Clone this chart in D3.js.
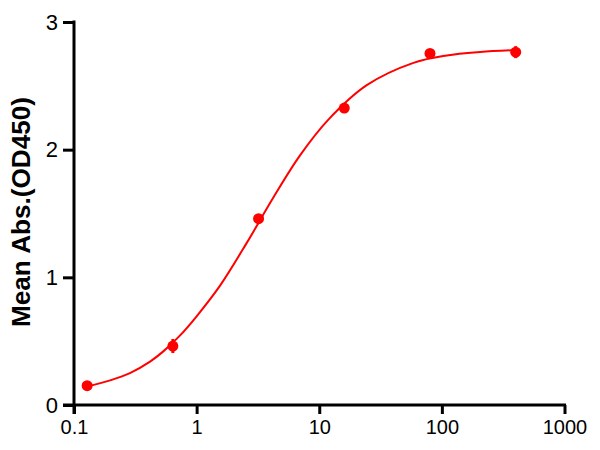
<!DOCTYPE html>
<html><head><meta charset="utf-8">
<script src="https://cdn.jsdelivr.net/npm/d3@7"></script>
<style>body{margin:0;background:#fff}svg{display:block}</style>
</head><body>
<svg id="c" width="600" height="450"></svg>
<script>
// Data points (concentration, mean absorbance, error)
const concentrations = [0.128, 0.64, 3.2, 16, 80, 400];
const meanAbs = [0.151, 0.462, 1.459, 2.326, 2.754, 2.764];
const errors = [0.02, 0.055, 0.02, 0.02, 0.02, 0.047];
// Fitted curve
const curveX = [0.128, 0.2, 0.286, 0.417, 0.535, 0.733, 1.0, 1.552, 2.563, 4.224, 6.97, 11.87, 24.4, 58.6, 109.6, 205, 400];
const curveY = [0.145, 0.195, 0.25, 0.34, 0.42, 0.545, 0.695, 0.935, 1.27, 1.625, 1.955, 2.235, 2.505, 2.68, 2.738, 2.765, 2.78];
const xTicks = [0.1, 1, 10, 100, 1000];
const xTickLabels = ["0.1", "1", "10", "100", "1000"];
const yTicks = [0, 1, 2, 3];
const yTickLabels = ["0", "1", "2", "3"];
const yTitle = "Mean Abs.(OD450)";

const svg = d3.select("#c");
const x = d3.scaleLog().domain([0.1, 1000]).range([74, 564.5]);
const y = d3.scaleLinear().domain([0, 3]).range([405, 22]);
const font = "'Liberation Sans', Arial, sans-serif";

// axis lines
svg.append("line").attr("x1", x(0.1) - 11).attr("x2", x(1000) + 1.5)
  .attr("y1", y(0)).attr("y2", y(0)).attr("stroke", "#000").attr("stroke-width", 3);
svg.append("line").attr("x1", x(0.1)).attr("x2", x(0.1))
  .attr("y1", y(3) - 1.5).attr("y2", y(0) + 9).attr("stroke", "#000").attr("stroke-width", 3);

// x axis ticks
const xa = svg.append("g").attr("transform", `translate(0,${y(0)})`)
  .call(d3.axisBottom(x).tickValues(xTicks).tickSize(9).tickSizeOuter(0)
    .tickFormat((d, i) => xTickLabels[i]));
xa.select(".domain").remove();
xa.selectAll(".tick line").attr("stroke", "#000").attr("stroke-width", 3);
xa.selectAll(".tick text").attr("font-family", font).attr("font-size", 20)
  .attr("fill", "#000").attr("y", 15).attr("dy", "0.71em");

// y axis ticks
const ya = svg.append("g").attr("transform", `translate(${x(0.1)},0)`)
  .call(d3.axisLeft(y).tickValues(yTicks).tickSize(11).tickSizeOuter(0)
    .tickFormat((d, i) => yTickLabels[i]));
ya.select(".domain").remove();
ya.selectAll(".tick line").attr("stroke", "#000").attr("stroke-width", 3);
ya.selectAll(".tick text").attr("font-family", font).attr("font-size", 22)
  .attr("fill", "#000").attr("x", -16);

// y title
svg.append("text").attr("transform", `translate(30,212) rotate(-90)`)
  .attr("text-anchor", "middle").attr("font-family", font).attr("font-weight", "bold")
  .attr("font-size", 26).attr("textLength", 230).attr("lengthAdjust", "spacingAndGlyphs")
  .text(yTitle);

// fitted curve
const line = d3.line().x(d => x(d[0])).y(d => y(d[1])).curve(d3.curveCatmullRom.alpha(0.5));
svg.append("path").datum(curveX.map((c, i) => [c, curveY[i]]))
  .attr("d", line).attr("fill", "none").attr("stroke", "#ff0000").attr("stroke-width", 2);

// error bars
svg.append("g").selectAll("line").data(concentrations).join("line")
  .attr("x1", d => x(d)).attr("x2", d => x(d))
  .attr("y1", (d, i) => y(meanAbs[i] - errors[i])).attr("y2", (d, i) => y(meanAbs[i] + errors[i]))
  .attr("stroke", "#ff0000").attr("stroke-width", 3);

// points
svg.append("g").selectAll("circle").data(concentrations).join("circle")
  .attr("cx", d => x(d)).attr("cy", (d, i) => y(meanAbs[i])).attr("r", 5.5)
  .attr("fill", "#ff0000");
</script>
</body></html>
